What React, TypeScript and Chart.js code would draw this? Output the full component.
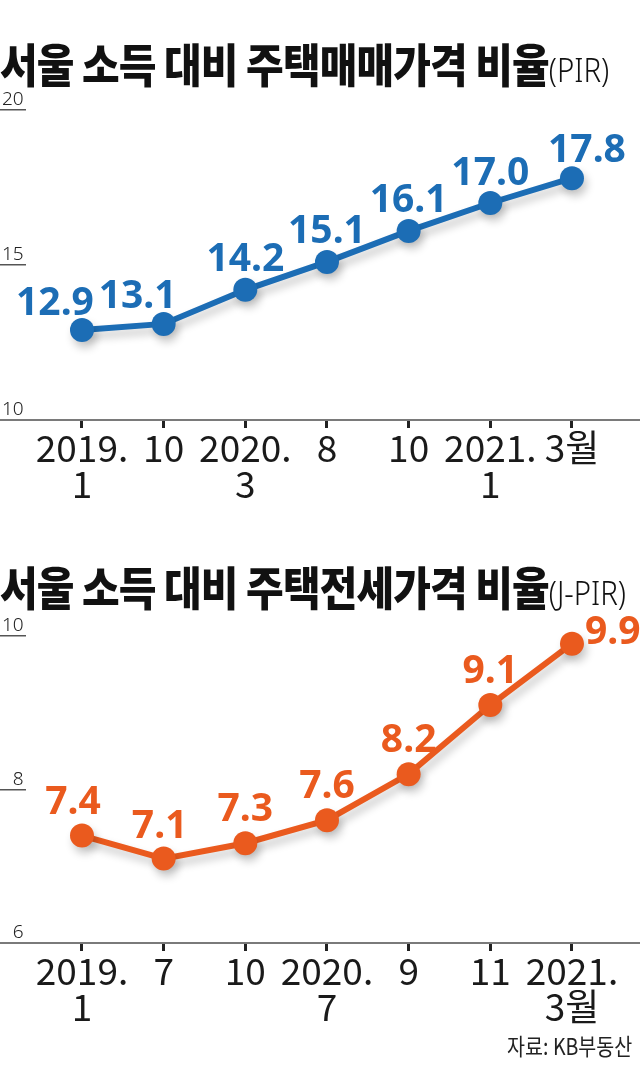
import React, { useEffect, useRef } from 'react';
import { Chart, registerables } from 'chart.js';

Chart.register(...registerables);

// ---- Data ----
const pirLabels: (string | string[])[] = [['2019.', '1'], '10', ['2020.', '3'], '8', '10', ['2021.', '1'], '3월'];
const pirValues = [12.9, 13.1, 14.2, 15.1, 16.1, 17.0, 17.8];
const pirTicks = [10, 15, 20];

const jpirLabels: (string | string[])[] = [['2019.', '1'], '7', '10', ['2020.', '7'], '9', '11', ['2021.', '3월']];
const jpirValues = [7.4, 7.1, 7.3, 7.6, 8.2, 9.1, 9.9];
const jpirTicks = [6, 8, 10];

// value-label placement (dx, dy from point centre, text alignment)
const pirPlace: [number, number, CanvasTextAlign][] = [
  [-27, -15, 'center'], [-26, -16, 'center'], [0, -19, 'center'], [0, -19, 'center'],
  [0, -19, 'center'], [0, -18, 'center'], [15, -16, 'center'],
];
const jpirPlace: [number, number, CanvasTextAlign][] = [
  [-9, -22, 'center'], [-4, -21, 'center'], [0, -22, 'center'], [0, -22, 'center'],
  [0, -22, 'center'], [0, -22, 'center'], [13, 0, 'left'],
];

const BLUE = '#1c6db5';
const ORANGE = '#ea5a1e';
const AXIS_FONT = "'Noto Sans CJK KR', sans-serif";

const valueLabelPlugin = {
  id: 'valueLabels',
  beforeDatasetsDraw(chart: any) {
    const ctx = chart.ctx;
    ctx.save();
    ctx.shadowColor = 'rgba(0,0,0,0.22)';
    ctx.shadowBlur = 8;
    ctx.shadowOffsetX = 3;
    ctx.shadowOffsetY = 6;
  },
  afterDatasetsDraw(chart: any, _args: any, opts: any) {
    const ctx = chart.ctx;
    ctx.restore();
    const meta = chart.getDatasetMeta(0);
    const values: number[] = opts.values || [];
    ctx.save();
    ctx.font = "bold 39px 'Noto Sans', sans-serif";
    ctx.fillStyle = opts.color;
    ctx.textBaseline = 'alphabetic';
    meta.data.forEach((pt: any, i: number) => {
      const [dx, dy, align] = opts.place[i];
      ctx.textAlign = align;
      ctx.fillText(values[i].toFixed(1), pt.x + dx, pt.y + dy);
    });
    ctx.restore();
  },
};

function makeConfig(
  values: number[], labels: (string | string[])[], ticks: number[], color: string,
  yMin: number, yMax: number, place: [number, number, CanvasTextAlign][], padTop: number
): any {
  return {
    type: 'line',
    data: {
      datasets: [{
        data: values.map((v, i) => ({ x: i, y: v })),
        borderColor: color,
        backgroundColor: color,
        borderWidth: 6,
        pointRadius: 12,
        pointHoverRadius: 12,
        pointBackgroundColor: color,
        pointBorderWidth: 0,
        tension: 0,
        clip: false,
      }],
    },
    options: {
      animation: false,
      responsive: false,
      maintainAspectRatio: false,
      events: [],
      layout: { autoPadding: false, padding: { top: padTop, left: 0, right: 0, bottom: 0 } },
      plugins: {
        legend: { display: false },
        tooltip: { enabled: false },
        valueLabels: { values, color, place },
      },
      scales: {
        x: {
          type: 'linear',
          min: -1.004,
          max: 6.833,
          afterBuildTicks: (s: any) => { s.ticks = labels.map((_, i) => ({ value: i })); },
          afterFit: (s: any) => { s.height = 90; s.paddingLeft = 0; s.paddingRight = 0; },
          ticks: {
            autoSkip: false,
            maxRotation: 0,
            minRotation: 0,
            padding: 2,
            color: '#1a1a1a',
            font: { family: AXIS_FONT, size: 37, weight: '400', lineHeight: 0.98 },
            callback: (v: number) => labels[v],
          },
          grid: { drawOnChartArea: false, drawTicks: true, tickLength: 8, tickWidth: 3, tickColor: '#222' },
          border: { display: true, color: '#7a7a7a', width: 2 },
        },
        y: {
          min: yMin,
          max: yMax,
          afterBuildTicks: (s: any) => { s.ticks = ticks.map((v) => ({ value: v })); },
          afterFit: (s: any) => { s.width = 0; s.paddingTop = 0; s.paddingBottom = 0; },
          ticks: {
            mirror: true,
            crossAlign: 'far',
            padding: 2,
            labelOffset: -10,
            color: '#222',
            font: { family: "'Noto Sans', sans-serif", size: 19, weight: '300' },
          },
          grid: { drawOnChartArea: false, drawTicks: true, tickLength: -26, color: '#555', lineWidth: 1.5 },
          border: { display: false },
        },
      },
    },
    plugins: [valueLabelPlugin],
  };
}

function LineChart(props: { cfg: () => any; top: number; height: number }) {
  const ref = useRef<HTMLCanvasElement | null>(null);
  useEffect(() => {
    if (!ref.current) return;
    const chart = new Chart(ref.current, props.cfg());
    return () => chart.destroy();
  }, []);
  return (
    <canvas
      ref={ref}
      width={640}
      height={props.height}
      style={{ position: 'absolute', left: 0, top: props.top, width: 640, height: props.height, display: 'block' }}
    />
  );
}

function Title(props: { main: string; sub: string; top: number }) {
  return (
    <div
      style={{
        position: 'absolute', left: 0, top: props.top, whiteSpace: 'nowrap',
        transform: 'scaleX(0.89)', transformOrigin: 'left top',
        fontFamily: "'Noto Sans CJK KR', sans-serif", lineHeight: 1, color: '#111',
      }}
    >
      <span style={{ fontSize: 46, fontWeight: 900, letterSpacing: -1 }}>{props.main}</span>
      <span style={{ fontSize: 33, fontWeight: 300, fontFamily: "'Noto Sans', sans-serif" }}>{props.sub}</span>
    </div>
  );
}

export default function App() {
  return (
    <div style={{ position: 'absolute', left: 0, top: 0, width: 640, height: 1086, background: '#fff', overflow: 'hidden' }}>
      <LineChart
        top={80}
        height={430}
        cfg={() => makeConfig(pirValues, pirLabels, pirTicks, BLUE, 10, 20, pirPlace, 30)}
      />
      <LineChart
        top={612}
        height={421}
        cfg={() => makeConfig(jpirValues, jpirLabels, jpirTicks, ORANGE, 6, 10, jpirPlace, 24)}
      />
      <Title main="서울 소득 대비 주택매매가격 비율" sub="(PIR)" top={39} />
      <Title main="서울 소득 대비 주택전세가격 비율" sub="(J-PIR)" top={562} />
      <div
        style={{
          position: 'absolute', right: 8, top: 1034, whiteSpace: 'nowrap',
          fontFamily: "'Noto Sans CJK KR', sans-serif", fontSize: 23, lineHeight: 1, color: '#222',
          transform: 'scaleX(0.85)', transformOrigin: 'right top',
        }}
      >
        자료: KB부동산
      </div>
    </div>
  );
}
